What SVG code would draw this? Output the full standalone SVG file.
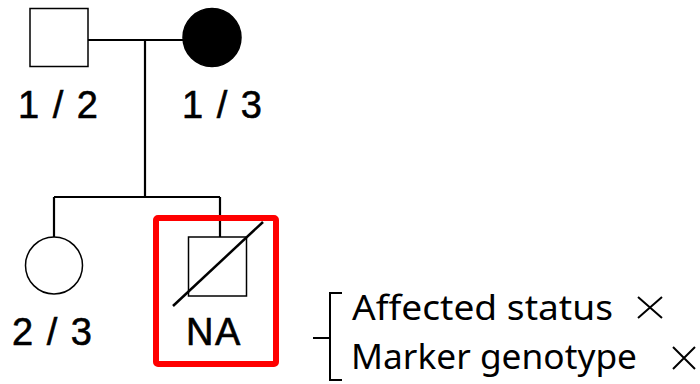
<svg xmlns="http://www.w3.org/2000/svg" width="700" height="384" viewBox="0 0 700 384">
<style>
.sym{fill:#fff;stroke:#000;stroke-width:1.5}
.line{stroke:#000;stroke-width:2.2;fill:none}
.lbl{font-family:"Liberation Sans",Arial,sans-serif;font-size:38px;fill:#000;stroke:#000;stroke-width:0.6;letter-spacing:1.5px}
.txt{font-family:"Noto Sans","Open Sans",sans-serif;font-size:35px;fill:#000}
</style>
<rect width="700" height="384" fill="#fff"/>
<g id="connectors">
<path class="line" d="M88 40H183M145 40V197M54 197H220M54 197V237M220 197V237"/>
</g>
<g id="father">
<rect class="sym" x="30" y="8.5" width="58" height="58"/>
<text class="lbl" x="18" y="118">1 / 2</text>
</g>
<g id="mother">
<circle cx="212" cy="37.5" r="29" fill="#000" stroke="#000" stroke-width="1.5"/>
<text class="lbl" x="182" y="118">1 / 3</text>
</g>
<g id="daughter">
<circle class="sym" cx="54" cy="265.5" r="28.5"/>
<text class="lbl" x="12" y="345">2 / 3</text>
</g>
<g id="son">
<rect class="sym" x="188.5" y="237" width="58" height="59"/>
<line x1="173" y1="306" x2="263" y2="222" stroke="#000" stroke-width="2.5"/>
<text class="lbl" x="186" y="345" letter-spacing="0">NA</text>
<rect x="156" y="218" width="120" height="146" rx="2" fill="none" stroke="#f00" stroke-width="6"/>
</g>
<g id="legend">
<path d="M342 293H330V380H342M330 338H313" fill="none" stroke="#000" stroke-width="2"/>
<text class="txt" x="352" y="320" textLength="261" lengthAdjust="spacingAndGlyphs">Affected status</text>
<text class="txt" x="351" y="369" textLength="286" lengthAdjust="spacingAndGlyphs">Marker genotype</text>
<path d="M638 297L662 318M662 297L638 318M673 347L695 369M695 347L673 369" stroke="#000" stroke-width="2" fill="none"/>
</g>
</svg>
